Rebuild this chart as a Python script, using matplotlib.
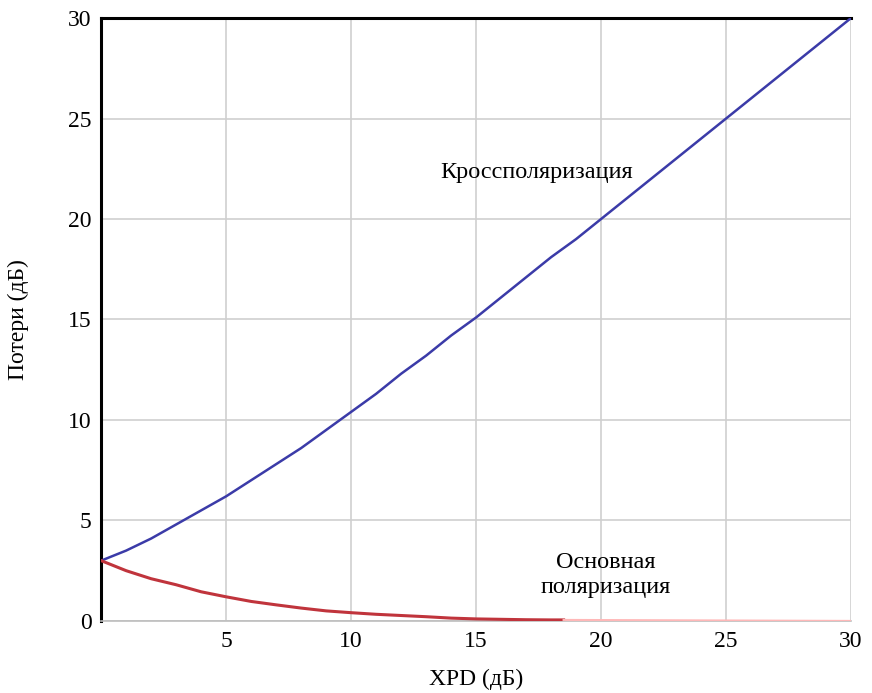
import matplotlib.pyplot as plt

plt.rcParams['font.family'] = ['Liberation Serif', 'DejaVu Serif']

# XPD values (dB) and losses
xpd = [0, 1, 2, 3, 4, 5, 6, 7, 8, 9, 10, 11, 12, 13, 14, 15,
       16, 17, 18, 19, 20, 21, 22, 23, 24, 25, 26, 27, 28, 29, 30]
cross_loss = [3.0, 3.5, 4.1, 4.8, 5.5, 6.2, 7.0, 7.8, 8.6, 9.5, 10.4,
              11.3, 12.3, 13.2, 14.2, 15.1, 16.1, 17.1, 18.1, 19.0, 20.0,
              21.0, 22.0, 23.0, 24.0, 25.0, 26.0, 27.0, 28.0, 29.0, 30.0]

# co-polar loss: drawn dark up to ~18.5 dB, then pale
co_x = [0, 1, 2, 3, 4, 5, 6, 7, 8, 9, 10, 11, 12, 13, 14, 15, 16, 17, 18, 18.5]
co_loss = [3.0, 2.5, 2.1, 1.8, 1.45, 1.2, 0.97, 0.8, 0.64, 0.5, 0.41,
           0.33, 0.27, 0.21, 0.14, 0.1, 0.08, 0.06, 0.05, 0.05]
co_tail_x = [18.5, 30]
co_tail = [0.05, 0.0]

fig = plt.figure(figsize=(8.72, 6.93), dpi=100)
ax = fig.add_axes([0.116, 0.104, 0.86, 0.87])

ax.plot(xpd, cross_loss, color='#3b3ba8', linewidth=1.8, zorder=3)
ax.plot(co_x, co_loss, color='#c0343c', linewidth=2.2, zorder=3)
ax.plot(co_tail_x, co_tail, color='#ffb8b8', linewidth=1.5, zorder=3)

ax.set_xlim(0, 30)
ax.set_ylim(0, 30)
ax.set_xticks([5, 10, 15, 20, 25, 30])
ax.set_yticks([0, 5, 10, 15, 20, 25, 30])
ax.tick_params(length=0, labelsize=17, pad=7)
ax.grid(True, color='#cfcfcf', linewidth=1.2)

ax.spines['top'].set_linewidth(2.2)
ax.spines['left'].set_linewidth(2.2)
ax.spines['right'].set_visible(False)
ax.spines['bottom'].set_color('#bdbdbd')
ax.spines['bottom'].set_linewidth(1.2)

ax.text(17.4, 22.3, 'Кроссполяризация', fontsize=17.5, ha='center', va='center')
ax.text(20.2, 2.3, 'Основная\nполяризация', fontsize=17.5, ha='center',
        va='center', linespacing=1.25)

ax.set_xlabel('XPD (дБ)', fontsize=17, labelpad=12)
ax.set_ylabel('Потери (дБ)', fontsize=17, labelpad=28)

fig.savefig('out.png', dpi=100)
